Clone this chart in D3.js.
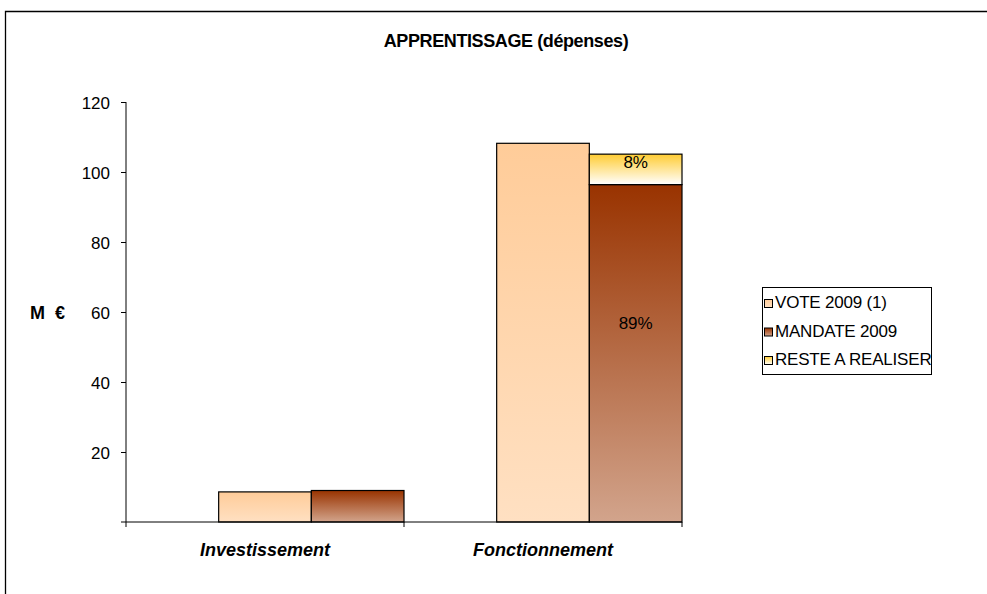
<!DOCTYPE html>
<html>
<head>
<meta charset="utf-8">
<script src="https://cdn.jsdelivr.net/npm/d3@7"></script>
<style>
  body { margin: 0; background: #fff; }
  svg text { font-family: Arial, "Liberation Sans", sans-serif; }
</style>
</head>
<body>
<div id="chart"></div>
<script>
// chart values (M €)
const categories = ["Investissement", "Fonctionnement"];
const seriesNames = ["VOTE 2009 (1)", "MANDATE 2009", "RESTE A REALISER"];
const vote = [8.6, 108.2];
const mandate = [9.0, 96.4];
const reste = [0, 8.7];
const pctLabels = [["", ""], ["89%", "8%"]];
const yTicks = [20, 40, 60, 80, 100, 120];

const width = 987, height = 594;

const svg = d3.select("#chart").append("svg")
    .attr("width", width)
    .attr("height", height);

// gradients
const defs = svg.append("defs");
function grad(id, top, bottom) {
    let g = defs.append("linearGradient").attr("id", id)
        .attr("x1", 0).attr("y1", 0).attr("x2", 0).attr("y2", 1);
    g.append("stop").attr("offset", "0%").attr("stop-color", top);
    g.append("stop").attr("offset", "100%").attr("stop-color", bottom);
}
grad("gVote", "#ffcc99", "#ffe0c2");
grad("gMand", "#993300", "#d2a48c");
grad("gReste", "#ffcc33", "#ffffff");

// frame
svg.append("path")
    .attr("d", "M5.5,594 L5.5,11.5 L987,11.5")
    .attr("fill", "none")
    .attr("stroke", "#000")
    .attr("stroke-width", 1.3);

// title
svg.append("text")
    .attr("x", 506).attr("y", 47)
    .attr("text-anchor", "middle")
    .style("font-size", "18px")
    .style("font-weight", "bold")
    .style("letter-spacing", "-0.4px")
    .text("APPRENTISSAGE (dépenses)");

// scales
const x = d3.scaleBand().domain(categories).range([126, 682]).paddingInner(0).paddingOuter(0);
const y = d3.scaleLinear().domain([0, 120]).range([522, 102]);

// bars sit in the right two thirds of each band
const barW = x.bandwidth() / 3;

const g = svg.append("g");

categories.forEach((c, i) => {
    let x0 = x(c) + barW;
    g.append("rect")
        .attr("x", x0).attr("y", y(vote[i]))
        .attr("width", barW).attr("height", y(0) - y(vote[i]))
        .attr("fill", "url(#gVote)")
        .attr("stroke", "#000").attr("stroke-width", 1.2);
    g.append("rect")
        .attr("x", x0 + barW).attr("y", y(mandate[i]))
        .attr("width", barW).attr("height", y(0) - y(mandate[i]))
        .attr("fill", "url(#gMand)")
        .attr("stroke", "#000").attr("stroke-width", 1.2);
    if (reste[i] > 0) {
        g.append("rect")
            .attr("x", x0 + barW).attr("y", y(mandate[i] + reste[i]))
            .attr("width", barW).attr("height", y(mandate[i]) - y(mandate[i] + reste[i]))
            .attr("fill", "url(#gReste)")
            .attr("stroke", "#000").attr("stroke-width", 1.2);
    }
    // percent labels
    if (pctLabels[i][0]) {
        g.append("text")
            .attr("x", x0 + barW * 1.5).attr("y", y(mandate[i] * 0.59) + 6)
            .attr("text-anchor", "middle")
            .style("font-size", "17px")
            .text(pctLabels[i][0]);
    }
    if (pctLabels[i][1]) {
        g.append("text")
            .attr("x", x0 + barW * 1.5).attr("y", y(mandate[i] + reste[i]) + 14)
            .attr("text-anchor", "middle")
            .style("font-size", "17px")
            .text(pctLabels[i][1]);
    }
});

// y axis
const yAxis = d3.axisLeft(y).tickValues(yTicks).tickSize(5).tickSizeOuter(0);
const ya = svg.append("g").attr("transform", "translate(126,0)").call(yAxis);
ya.select(".domain").attr("d", "M0,102V522");
ya.selectAll("text").style("font-size", "17px").attr("x", -16).attr("dy", "0.36em").attr("fill", "#000");
ya.selectAll("line").attr("stroke", "#000");

// x axis
const xAxis = d3.axisBottom(x).tickSize(5).tickSizeOuter(0).tickFormat("");
const xa = svg.append("g").attr("transform", "translate(0,522)").call(xAxis);
xa.select(".domain").attr("d", "M121,0H682");
xa.selectAll(".tick").remove();
[126, 404, 682].forEach(v => xa.append("line")
    .attr("x1", v).attr("x2", v).attr("y1", 0).attr("y2", 5).attr("stroke", "#000"));

// category labels
svg.append("g").selectAll("text")
    .data(categories).enter().append("text")
    .attr("x", d => x(d) + x.bandwidth() / 2)
    .attr("y", 556)
    .attr("text-anchor", "middle")
    .style("font-size", "18px")
    .style("font-weight", "bold")
    .style("font-style", "italic")
    .text(d => d);

// y axis title
svg.append("text")
    .attr("x", 30).attr("y", 319)
    .style("font-size", "18px")
    .style("font-weight", "bold")
    .style("word-spacing", "5px")
    .text("M €");

// legend
const legend = svg.append("g").attr("transform", "translate(762,287)");
legend.append("rect")
    .attr("x", 0.5).attr("y", 0.5).attr("width", 169).attr("height", 87)
    .attr("fill", "#fff").attr("stroke", "#000");
const legendFills = ["url(#gVote)", "url(#gMand)", "url(#gReste)"];
seriesNames.forEach((s, i) => {
    let base = 21 + i * 28.5;
    legend.append("rect")
        .attr("x", 2.5).attr("y", base - 8.5).attr("width", 8).attr("height", 8)
        .attr("fill", legendFills[i]).attr("stroke", "#000");
    legend.append("text")
        .attr("x", 13).attr("y", base)
        .style("font-size", "17px")
        .style("letter-spacing", "-0.2px")
        .text(s);
});
</script>
</body>
</html>
